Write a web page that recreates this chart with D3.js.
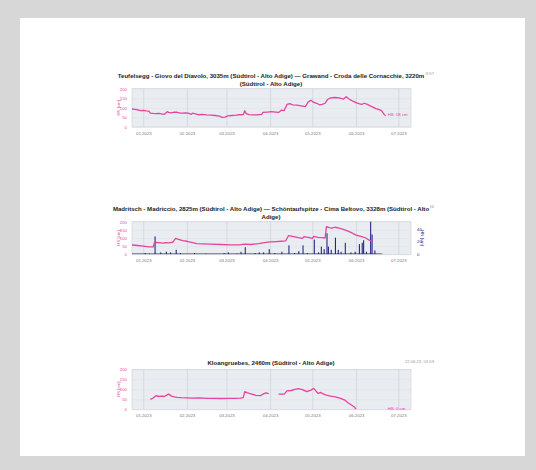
<!DOCTYPE html>
<html>
<head>
<meta charset="utf-8">
<script src="https://cdn.jsdelivr.net/npm/d3@7"></script>
<style>
  body { margin: 0; background: #d7d7d7; }
  text { font-family: "Liberation Sans", Arial, sans-serif; }
</style>
</head>
<body>
<div id="chart"></div>
<script>
// snow height series [date, HS cm]
const hsTeufelsegg = [
  ["2022-12-24", 94], ["2022-12-26", 92], ["2022-12-28", 90], ["2022-12-30", 86],
  ["2023-01-01", 87], ["2023-01-03", 84], ["2023-01-05", 83], ["2023-01-06", 73],
  ["2023-01-08", 71], ["2023-01-10", 70], ["2023-01-12", 71], ["2023-01-14", 68],
  ["2023-01-16", 67], ["2023-01-18", 80], ["2023-01-19", 76], ["2023-01-21", 74],
  ["2023-01-23", 78], ["2023-01-25", 77], ["2023-01-27", 72], ["2023-01-29", 72],
  ["2023-01-31", 74], ["2023-02-02", 72], ["2023-02-04", 66], ["2023-02-05", 72],
  ["2023-02-07", 68], ["2023-02-09", 64], ["2023-02-12", 66], ["2023-02-15", 63],
  ["2023-02-18", 62], ["2023-02-21", 60], ["2023-02-24", 57], ["2023-02-26", 50],
  ["2023-02-28", 52], ["2023-03-02", 58], ["2023-03-05", 60], ["2023-03-08", 62],
  ["2023-03-10", 64], ["2023-03-13", 65], ["2023-03-14", 85], ["2023-03-15", 70],
  ["2023-03-17", 65], ["2023-03-20", 63], ["2023-03-23", 64], ["2023-03-26", 66],
  ["2023-03-27", 76], ["2023-03-30", 78], ["2023-04-02", 80], ["2023-04-05", 78],
  ["2023-04-07", 76], ["2023-04-09", 88], ["2023-04-11", 86], ["2023-04-13", 118],
  ["2023-04-15", 122], ["2023-04-17", 116], ["2023-04-20", 114], ["2023-04-23", 110],
  ["2023-04-26", 106], ["2023-04-28", 130], ["2023-04-30", 140], ["2023-05-02", 128],
  ["2023-05-04", 124], ["2023-05-06", 116], ["2023-05-08", 118], ["2023-05-10", 124],
  ["2023-05-12", 145], ["2023-05-14", 152], ["2023-05-17", 154], ["2023-05-20", 152],
  ["2023-05-23", 146], ["2023-05-25", 158], ["2023-05-27", 146], ["2023-05-29", 138],
  ["2023-06-01", 127], ["2023-06-03", 122], ["2023-06-05", 118], ["2023-06-07", 124],
  ["2023-06-09", 118], ["2023-06-11", 110], ["2023-06-13", 104], ["2023-06-15", 96],
  ["2023-06-17", 92], ["2023-06-19", 86], ["2023-06-21", 66], ["2023-06-22", 58]
];

const hsMadritsch = [
  ["2022-12-24", 57], ["2022-12-28", 54], ["2023-01-01", 50], ["2023-01-05", 46],
  ["2023-01-08", 45], ["2023-01-09", 74], ["2023-01-12", 72], ["2023-01-15", 68],
  ["2023-01-17", 72], ["2023-01-19", 70], ["2023-01-22", 74], ["2023-01-24", 98],
  ["2023-01-26", 92], ["2023-01-29", 84], ["2023-02-01", 80], ["2023-02-05", 72],
  ["2023-02-08", 66], ["2023-02-12", 64], ["2023-02-18", 62], ["2023-02-25", 60],
  ["2023-03-04", 58], ["2023-03-10", 58], ["2023-03-14", 62], ["2023-03-18", 60],
  ["2023-03-24", 66], ["2023-03-28", 72], ["2023-04-01", 76], ["2023-04-05", 78],
  ["2023-04-09", 80], ["2023-04-12", 82], ["2023-04-14", 114], ["2023-04-17", 110],
  ["2023-04-21", 102], ["2023-04-24", 98], ["2023-04-25", 108], ["2023-04-28", 104],
  ["2023-05-01", 98], ["2023-05-02", 110], ["2023-05-05", 104], ["2023-05-08", 102],
  ["2023-05-10", 100], ["2023-05-11", 170], ["2023-05-13", 164], ["2023-05-15", 160],
  ["2023-05-17", 166], ["2023-05-20", 160], ["2023-05-24", 150], ["2023-05-28", 136],
  ["2023-06-01", 118], ["2023-06-05", 108], ["2023-06-08", 100], ["2023-06-10", 88],
  ["2023-06-12", 80]
];

// new snow [date, HN cm]
const hnMadritsch = [
  ["2023-01-02", 2], ["2023-01-05", 1], ["2023-01-09", 28], ["2023-01-13", 3],
  ["2023-01-17", 4], ["2023-01-20", 3], ["2023-01-24", 7], ["2023-01-27", 2],
  ["2023-02-06", 2], ["2023-02-14", 1], ["2023-02-27", 2], ["2023-03-02", 3],
  ["2023-03-08", 1], ["2023-03-11", 4], ["2023-03-14", 11], ["2023-03-21", 2],
  ["2023-03-24", 3], ["2023-03-27", 3], ["2023-03-31", 8], ["2023-04-04", 2],
  ["2023-04-09", 4], ["2023-04-14", 14], ["2023-04-18", 2], ["2023-04-21", 5],
  ["2023-04-24", 14], ["2023-04-27", 2], ["2023-05-02", 23], ["2023-05-05", 3],
  ["2023-05-07", 12], ["2023-05-09", 8], ["2023-05-11", 33], ["2023-05-12", 12],
  ["2023-05-14", 7], ["2023-05-17", 26], ["2023-05-19", 7], ["2023-05-21", 4],
  ["2023-05-24", 18], ["2023-05-28", 3], ["2023-05-31", 4], ["2023-06-03", 16],
  ["2023-06-05", 18], ["2023-06-06", 22], ["2023-06-08", 4], ["2023-06-11", 51],
  ["2023-06-12", 31], ["2023-06-14", 6], ["2023-06-19", 1]
];

const hsKloangruebes = [
  ["2023-01-06", 50], ["2023-01-08", 56], ["2023-01-10", 68], ["2023-01-12", 64],
  ["2023-01-14", 66], ["2023-01-16", 64], ["2023-01-18", 72], ["2023-01-19", 76],
  ["2023-01-21", 66], ["2023-01-23", 62], ["2023-01-25", 60], ["2023-01-28", 58],
  ["2023-02-01", 57], ["2023-02-05", 56], ["2023-02-10", 57], ["2023-02-15", 55],
  ["2023-02-20", 55], ["2023-02-25", 54], ["2023-03-02", 55], ["2023-03-07", 55],
  ["2023-03-11", 56], ["2023-03-13", 58], ["2023-03-14", 88], ["2023-03-16", 82],
  ["2023-03-19", 76], ["2023-03-22", 70], ["2023-03-25", 68], ["2023-03-27", 76],
  ["2023-03-29", 82], ["2023-03-31", 78], ["2023-04-03", null], ["2023-04-07", 76],
  ["2023-04-11", 76], ["2023-04-13", 92], ["2023-04-16", 94], ["2023-04-18", 98],
  ["2023-04-21", 103], ["2023-04-24", 98], ["2023-04-27", 88], ["2023-04-30", 96],
  ["2023-05-02", 105], ["2023-05-05", 80], ["2023-05-07", 84], ["2023-05-09", 76],
  ["2023-05-11", 71], ["2023-05-14", 66], ["2023-05-18", 61], ["2023-05-21", 55],
  ["2023-05-24", 46], ["2023-05-26", 34], ["2023-05-29", 20], ["2023-05-31", 10],
  ["2023-06-01", 0]
];

const hsTicks = [0, 50, 100, 150, 200];
const hnTicks = [0, 20, 40];

const W = 536, H = 470;
const pink = "#e6449e", navy = "#1f1f85";
const parse = d3.utcParse("%Y-%m-%d");

const svg = d3.select("#chart").append("svg")
  .attr("width", W).attr("height", H);

svg.append("rect").attr("width", W).attr("height", H).attr("fill", "#d7d7d7");
svg.append("rect").attr("x", 20).attr("y", 18).attr("width", 505).attr("height", 438).attr("fill", "#fff");

// shared time axis
const x = d3.scaleUtc()
  .domain([parse("2022-12-24"), parse("2023-07-10")])
  .range([132, 411]);
const months = d3.utcMonth.range(parse("2023-01-01"), parse("2023-07-02"));

function drawChart(cfg) {
  const g = svg.append("g");
  const top = cfg.top, bottom = cfg.top + cfg.height;
  const x0 = x.range()[0], x1 = x.range()[1];
  const y = d3.scaleLinear().domain([0, 200]).range([bottom, top]);

  // timestamp (partly covered by the title, as in the original)
  g.append("text")
    .attr("x", 434).attr("y", cfg.stampY).attr("dy", "0.35em")
    .attr("text-anchor", "end")
    .attr("font-size", 4.2).attr("fill", "#999")
    .text(cfg.stamp);

  cfg.title.forEach((line, i) => {
    const t = g.append("text")
      .attr("x", 271).attr("y", cfg.titleY + i * 8).attr("dy", "0.35em")
      .attr("text-anchor", "middle")
      .attr("font-size", 6.1).attr("font-weight", "bold").attr("fill", "#222")
      .text(line);
    const bb = t.node().getBBox();
    g.insert("rect", () => t.node())
      .attr("x", bb.x - 0.5).attr("y", bb.y).attr("width", bb.width + 1).attr("height", bb.height)
      .attr("fill", "#fff");
  });

  // plot background
  g.append("rect")
    .attr("x", x0).attr("y", top).attr("width", x1 - x0).attr("height", cfg.height)
    .attr("fill", "#e9edf1");

  // horizontal grid
  g.append("g")
    .attr("transform", `translate(${x0},0)`)
    .call(d3.axisLeft(y).tickValues(hsTicks).tickSize(-(x1 - x0)).tickFormat(""))
    .call(a => a.select(".domain").remove())
    .call(a => a.selectAll("line").attr("stroke", "#dde1e6").attr("stroke-width", 0.5));

  // vertical grid at month starts
  g.append("g")
    .attr("transform", `translate(0,${bottom})`)
    .call(d3.axisBottom(x).tickValues(months).tickSize(-cfg.height).tickFormat(""))
    .call(a => a.select(".domain").remove())
    .call(a => a.selectAll("line").attr("stroke", "#c9cdd2").attr("stroke-width", 0.6));

  g.append("rect")
    .attr("x", x0).attr("y", top).attr("width", x1 - x0).attr("height", cfg.height)
    .attr("fill", "none").attr("stroke", "#cdd1d5").attr("stroke-width", 0.6);

  // x labels
  g.append("g")
    .attr("transform", `translate(0,${bottom + 1.5})`)
    .call(d3.axisBottom(x).tickValues(months).tickSize(0).tickFormat(d3.utcFormat("%m.%Y")))
    .call(a => a.select(".domain").remove())
    .call(a => a.selectAll("text").attr("font-size", 4.3).attr("fill", "#777")
      .attr("font-family", "Liberation Sans, Arial, sans-serif"));

  // left y labels
  g.append("g")
    .attr("transform", `translate(${x0 - 2},0)`)
    .call(d3.axisLeft(y).tickValues(hsTicks).tickSize(0))
    .call(a => a.select(".domain").remove())
    .call(a => a.selectAll("text").attr("font-size", 4.3).attr("fill", pink)
      .attr("font-family", "Liberation Sans, Arial, sans-serif"));

  g.append("text")
    .attr("transform", `translate(118,${(top + bottom) / 2}) rotate(-90)`)
    .attr("text-anchor", "middle").attr("dy", "0.35em")
    .attr("font-size", 4.3).attr("fill", pink)
    .text("HS [cm]");

  const clipId = "clip" + cfg.id;
  svg.append("clipPath").attr("id", clipId)
    .append("rect").attr("x", x0).attr("y", top - 1).attr("width", x1 - x0).attr("height", cfg.height + 1);

  const plot = g.append("g").attr("clip-path", `url(#${clipId})`);

  if (cfg.hn) {
    const y2 = d3.scaleLinear().domain([0, 51]).range([bottom, top]);
    const day = x(parse("2023-01-02")) - x(parse("2023-01-01"));
    const first = parse(cfg.hs[0][0]);
    const last = parse(cfg.hn[cfg.hn.length - 1][0]);
    plot.append("path")
      .datum([first, last])
      .attr("d", d3.line().x(d => x(d)).y(() => y2(0) - 0.4))
      .attr("stroke", navy).attr("stroke-width", 0.8).attr("fill", "none");
    plot.selectAll(".bar")
      .data(cfg.hn)
      .join("rect")
      .attr("x", d => x(parse(d[0])))
      .attr("y", d => y2(d[1]))
      .attr("width", day * 0.75)
      .attr("height", d => y2(0) - y2(d[1]))
      .attr("fill", navy);

    g.append("g")
      .attr("transform", `translate(${x1 + 3},0)`)
      .call(d3.axisRight(y2).tickValues(hnTicks).tickSize(0))
      .call(a => a.select(".domain").remove())
      .call(a => a.selectAll("text").attr("font-size", 4.3).attr("fill", navy)
        .attr("font-family", "Liberation Sans, Arial, sans-serif"));

    g.append("text")
      .attr("transform", `translate(423,${(top + bottom) / 2}) rotate(90)`)
      .attr("text-anchor", "middle").attr("dy", "0.35em")
      .attr("font-size", 4.3).attr("fill", navy)
      .text("HN [cm]");
  }

  plot.append("path")
    .datum(cfg.hs)
    .attr("d", d3.line()
      .defined(d => d[1] !== null)
      .x(d => x(parse(d[0])))
      .y(d => y(d[1])))
    .attr("fill", "none").attr("stroke", pink).attr("stroke-width", 1.3)
    .attr("stroke-linejoin", "round");

  if (cfg.endLabel) {
    g.append("text")
      .attr("x", x(parse(cfg.endLabel.date)) + 2)
      .attr("y", y(cfg.endLabel.value) - 1).attr("dy", "0.35em")
      .attr("font-size", 4.3).attr("fill", pink)
      .text(cfg.endLabel.text);
  }
}

drawChart({
  id: 1, top: 88.7, height: 38.3, titleY: 75.5, stampY: 73.5, stamp: "22.06.23, 03:57",
  title: ["Teufelsegg - Giovo del Diavolo, 3035m (Südtirol - Alto Adige) — Grawand - Croda delle Cornacchie, 3220m",
          "(Südtirol - Alto Adige)"],
  hs: hsTeufelsegg,
  endLabel: { date: "2023-06-22", value: 58, text: "HS: 58 cm" }
});

drawChart({
  id: 2, top: 221.7, height: 32.6, titleY: 208.7, stampY: 207, stamp: "22.06.23, 03:46",
  title: ["Madritsch - Madriccio, 2825m (Südtirol - Alto Adige) — Schöntaufspitze - Cima Beltovo, 3328m (Südtirol - Alto",
          "Adige)"],
  hs: hsMadritsch,
  hn: hnMadritsch
});

drawChart({
  id: 3, top: 369.3, height: 40, titleY: 363.3, stampY: 362, stamp: "22.06.23, 03:59",
  title: ["Kloangruebes, 2460m (Südtirol - Alto Adige)"],
  hs: hsKloangruebes,
  endLabel: { date: "2023-06-22", value: 0, text: "HS: 0 cm" }
});
</script>
</body>
</html>
